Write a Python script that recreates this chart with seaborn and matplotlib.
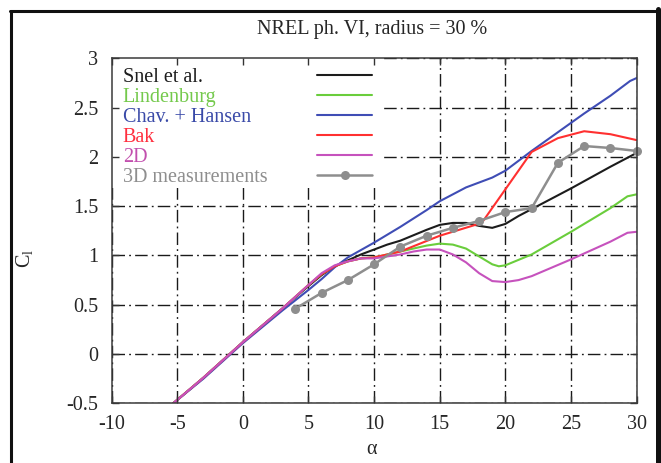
import matplotlib
matplotlib.use("Agg")
import matplotlib.pyplot as plt
import seaborn as sns
import pandas as pd
from matplotlib.lines import Line2D
from matplotlib.patches import Rectangle

# Lift coefficient vs angle of attack, NREL phase VI blade, r/R = 30 %
alpha_snel = [-5.3, -3, 0, 3, 5, 6, 7, 8, 9, 10, 11, 12, 14, 15, 16, 17, 18, 19, 20, 21, 22, 25, 28, 30]
cl_snel = [-0.5, -0.24, 0.12, 0.46, 0.69, 0.80, 0.89, 0.95, 1.01, 1.06, 1.11, 1.15, 1.26, 1.31, 1.33, 1.33, 1.30, 1.28, 1.32, 1.40, 1.47, 1.68, 1.90, 2.04]

alpha_lind = [-5.3, -3, 0, 3, 5, 6, 7, 8, 9, 10, 12, 14, 15, 16, 17, 18, 19, 19.5, 20, 22, 25, 28, 29.3, 30]
cl_lind = [-0.5, -0.24, 0.12, 0.46, 0.70, 0.81, 0.89, 0.94, 0.97, 0.98, 1.04, 1.10, 1.12, 1.11, 1.07, 0.99, 0.91, 0.89, 0.90, 1.01, 1.24, 1.48, 1.60, 1.62]

alpha_chav = [-5.3, -3, 0, 3, 5, 6, 7, 8, 10, 12, 14, 15, 16, 17, 18, 19, 20, 22, 24, 26, 28, 29.5, 30]
cl_chav = [-0.5, -0.25, 0.11, 0.44, 0.65, 0.76, 0.88, 0.98, 1.13, 1.29, 1.46, 1.55, 1.62, 1.69, 1.74, 1.79, 1.86, 2.06, 2.25, 2.44, 2.62, 2.77, 2.80]

alpha_bak = [-5.3, -3, 0, 3, 5, 6, 7, 8, 9, 10, 12, 15, 18.2, 22, 24, 26, 28, 30]
cl_bak = [-0.5, -0.24, 0.12, 0.46, 0.70, 0.81, 0.89, 0.94, 0.97, 0.98, 1.04, 1.20, 1.33, 2.05, 2.19, 2.26, 2.23, 2.17]

alpha_2d = [-5.3, -3, 0, 3, 5, 6, 7, 8, 9, 10, 12, 13, 14, 15, 16, 17, 18, 19, 20, 21, 22, 25, 28, 29.3, 30]
cl_2d = [-0.5, -0.24, 0.12, 0.46, 0.70, 0.82, 0.90, 0.94, 0.97, 0.97, 1.01, 1.04, 1.06, 1.06, 1.01, 0.93, 0.82, 0.74, 0.73, 0.75, 0.79, 0.96, 1.14, 1.23, 1.24]

alpha_3d = [4, 6, 8, 10, 12, 14, 16, 18, 20, 22, 24, 26, 28, 30]
cl_3d = [0.46, 0.62, 0.75, 0.91, 1.09, 1.20, 1.28, 1.35, 1.44, 1.48, 1.94, 2.11, 2.09, 2.06]

series_names = ["Snel et al.", "Lindenburg", "Chav. + Hansen", "Bak", "2D", "3D measurements"]
line_colors = ["#1c1c1c", "#6acd3c", "#3f4db5", "#ff3030", "#c652bd", "#8e8e8e"]
text_colors = ["#1c1c1c", "#74c94c", "#3a4aa8", "#ff2f3f", "#c24fae", "#8e8e8e"]

xticks = [-10, -5, 0, 5, 10, 15, 20, 25, 30]
yticks = [-0.5, 0, 0.5, 1, 1.5, 2, 2.5, 3]
ytick_labels = ["-0.5", "0", "0.5", "1", "1.5", "2", "2.5", "3"]

sns.set_style("white")
plt.rcParams["font.family"] = ["Liberation Serif", "DejaVu Serif"]
plt.rcParams["mathtext.fontset"] = "stix"
plt.rcParams["axes.unicode_minus"] = False
FS = 14.5

fig = plt.figure(figsize=(6.61, 4.63), dpi=100)
pos = [0.1687, 0.1289, 0.7945, 0.7452]

# base axes: grid, curves and key
ax = fig.add_axes(pos)
ax.set_xlim(-10, 30)
ax.set_ylim(-0.5, 3)
ax.set_xticks(xticks)
ax.set_yticks(yticks)
ax.grid(True, color="#1a1a1a", lw=1.0, linestyle=(0, (9, 3, 1.3, 3)))
ax.tick_params(length=0, labelbottom=False, labelleft=False)
for s in ax.spines.values():
    s.set_visible(False)

# blank the grid behind the key
ax.add_patch(Rectangle((0, 0.624), 0.518, 0.376, transform=ax.transAxes,
                       facecolor="white", edgecolor="none", zorder=1))

curves = [(alpha_snel, cl_snel), (alpha_lind, cl_lind), (alpha_chav, cl_chav),
          (alpha_bak, cl_bak), (alpha_2d, cl_2d)]
for (a, c), name, col in zip(curves, series_names[:5], line_colors[:5]):
    df = pd.DataFrame({"alpha": a, "cl": c})
    sns.lineplot(data=df, x="alpha", y="cl", ax=ax, color=col, lw=1.5,
                 sort=False, estimator=None, legend=False, zorder=3)

df3 = pd.DataFrame({"alpha": alpha_3d, "cl": cl_3d})
sns.lineplot(data=df3, x="alpha", y="cl", ax=ax, color=line_colors[5], lw=1.8,
             marker="o", markersize=6.5, markeredgewidth=0, sort=False,
             estimator=None, legend=False, zorder=4, clip_on=False)

# key: coloured labels on the left, line samples in a second column on the right
key_opts = dict(loc="upper left", borderaxespad=0, borderpad=0, frameon=False,
                labelspacing=0.045, fontsize=FS)
handles = [Line2D([], [], color=c, lw=1.5) for c in line_colors[:5]]
handles.append(Line2D([], [], color=line_colors[5], lw=1.8, marker="o",
                      markersize=6.5, markeredgewidth=0))
leg_lines = ax.legend(handles, [" "] * len(handles), handlelength=2.75,
                      handletextpad=0, bbox_to_anchor=(0.391, 0.972), **key_opts)
ax.add_artist(leg_lines)
blank = [Line2D([], [], lw=0) for _ in series_names]
ax.legend(blank, series_names, handlelength=0, handletextpad=0,
          labelcolor=text_colors, bbox_to_anchor=(0.0213, 0.972), **key_opts)
ax.set_xlabel("")
ax.set_ylabel("")

# overlay axes: frame, inward ticks and labels
ax2 = fig.add_axes(pos, sharex=ax, sharey=ax)
ax2.patch.set_visible(False)
ax2.grid(False)
ax2.set_yticks(yticks)
ax2.set_yticklabels(ytick_labels)
ax2.tick_params(direction="in", length=5, width=1.0, color="#333333",
                top=True, right=True, bottom=True, left=True, labelsize=FS)
ax2.tick_params(axis="x", pad=8.5)
ax2.tick_params(axis="y", pad=9.5)
for s in ax2.spines.values():
    s.set_visible(True)
    s.set_color("#3a3a3a")
    s.set_linewidth(1.1)
ax2.set_xlabel("α", fontsize=FS)
ax2.set_ylabel(r"$\mathregular{C_l}$", fontsize=FS)
ax2.xaxis.set_label_coords(0.496, -0.106)
ax2.yaxis.set_label_coords(-0.145, 0.421)

fig.text(372 / 661, 1 - 34 / 463, "NREL ph. VI, radius = 30 %", fontsize=FS,
         ha="center", va="baseline")

# page border
W, H = 661, 463
fig.add_artist(Line2D([11.3 / W, 11.3 / W], [-0.05, 1 - 10.8 / H], lw=2.2,
                      color="#111111", transform=fig.transFigure))
fig.add_artist(Line2D([10 / W, 659 / W], [1 - 10.8 / H, 1 - 10.8 / H], lw=2.2,
                      color="#111111", transform=fig.transFigure))
fig.add_artist(Line2D([657.5 / W, 657.5 / W], [-0.05, 1 - 9.3 / H], lw=3.6,
                      color="#111111", transform=fig.transFigure))

fig.savefig("out.png", dpi=100)
